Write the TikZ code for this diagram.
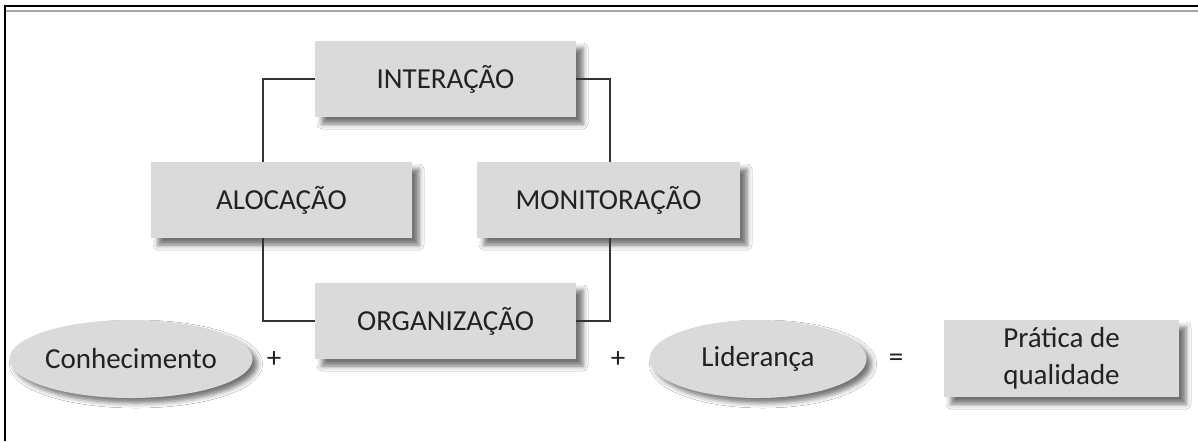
\documentclass[tikz,border=0pt]{standalone}
\usepackage{fontspec}
\setmainfont{Carlito}
\usetikzlibrary{shadows.blur,shapes.geometric}
\definecolor{boxfill}{HTML}{DADADA}
\definecolor{txt}{HTML}{222222}
\definecolor{linec}{HTML}{333333}
\tikzset{
  boxnode/.style={rectangle, fill=boxfill, draw=none, minimum height=38pt,
    text=txt, font=\fontsize{14.5}{18.5}\selectfont, align=center,
    blur shadow={shadow xshift=3.5pt, shadow yshift=-3.5pt, shadow blur radius=2.5pt, shadow opacity=55}},
  ellnode/.style={ellipse, fill=boxfill, draw=none, inner sep=0pt,
    text=txt, font=\fontsize{14.5}{18.5}\selectfont,
    blur shadow={shadow xshift=2.5pt, shadow yshift=-2.5pt, shadow blur radius=2.5pt, shadow opacity=55}},
  opnode/.style={text=txt, font=\fontsize{14.5}{18.5}\selectfont, inner sep=0pt},
  conn/.style={draw=linec, line width=1pt},
}
\begin{document}
\begin{tikzpicture}[x=0.5pt,y=-0.5pt]
\useasboundingbox (0,0) rectangle (1198,441);
\fill[white] (0,0) rectangle (1198,441);
% frame
\draw[line width=1.1pt, black] (4,6) -- (1198,6);
\draw[line width=1pt, black!35] (6,11) -- (1198,11);
\draw[line width=1.1pt, black] (5,5) -- (5,441);
% boxes
\node[boxnode, minimum width=130.5pt] (int) at (445.5,79) {INTERAÇÃO};
\node[boxnode, minimum width=130.5pt] (aloc) at (281.5,200) {ALOCAÇÃO};
\node[boxnode, minimum width=131.5pt] (mon) at (608.5,200) {MONITORAÇÃO};
\node[boxnode, minimum width=130.5pt] (org) at (445.5,321) {ORGANIZAÇÃO};
\node[ellnode, minimum width=109pt, minimum height=39pt] (con) at (131,359) {Conhecimento};
\node[ellnode, minimum width=108.5pt, minimum height=39pt] (lid) at (758,359) {Liderança};
\node[boxnode, minimum width=117.5pt, minimum height=38.5pt] (prat) at (1061.5,358.5) {Prática de\\qualidade};
\node[opnode] (p1) at (274,360) {+};
\node[opnode] (p2) at (618,360) {+};
\node[opnode] (eq) at (896,360) {=};
% connectors
\draw[conn] (int.west) -| ([xshift=-9.25pt]aloc.north);
\draw[conn] ([xshift=-9.25pt]aloc.south) |- (org.west);
\draw[conn] (int.east) -| ([xshift=0.75pt]mon.north);
\draw[conn] ([xshift=0.75pt]mon.south) |- (org.east);
\end{tikzpicture}
\end{document}
